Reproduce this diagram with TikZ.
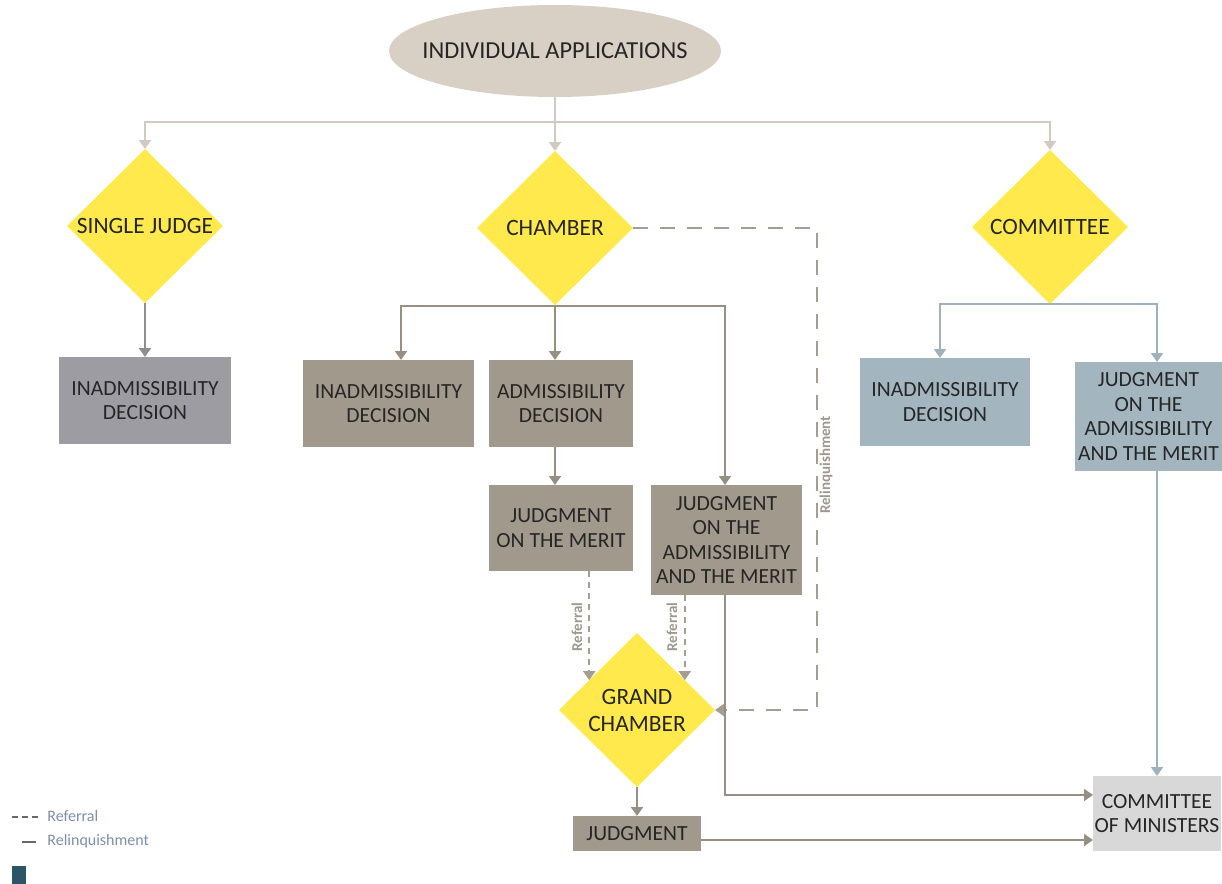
\documentclass[tikz,border=0pt]{standalone}
\usepackage{fontspec}
\setmainfont{Carlito}
\usetikzlibrary{shapes.geometric,arrows.meta,calc}
\definecolor{ellfill}{HTML}{D8CFC5}
\definecolor{topline}{HTML}{D2CAC0}
\definecolor{yel}{HTML}{FFE94D}
\definecolor{gbox}{HTML}{9D9CA3}
\definecolor{gline}{HTML}{8E8D92}
\definecolor{tbox}{HTML}{A1998C}
\definecolor{tline}{HTML}{978F82}
\definecolor{bbox}{HTML}{A3B6BF}
\definecolor{bline}{HTML}{9DB2BB}
\definecolor{cbox}{HTML}{D8D8D8}
\definecolor{dline}{HTML}{A39D94}
\definecolor{txt}{HTML}{262626}
\definecolor{legtxt}{HTML}{7D8FA6}
\definecolor{legsq}{HTML}{2E5566}
\definecolor{rotlbl}{HTML}{9E978D}
\tikzset{
  boxnode/.style={rectangle, inner sep=0pt, outer sep=0pt, align=center,
    font=\fontsize{10.8}{12.3}\selectfont, text=txt},
  dianode/.style={diamond, fill=yel, inner sep=0pt, outer sep=0pt,
    minimum width=78pt, minimum height=77pt},
  diatext/.style={align=center, font=\fontsize{11.7}{13.5}\selectfont, text=txt, inner sep=0pt},
  conn/.style={line width=1pt, -{Triangle[width=6pt,length=4.5pt]}},
  plainline/.style={line width=1pt},
  refline/.style={line width=1pt, color=dline, dash pattern=on 3pt off 2.5pt,
    -{Triangle[width=6pt,length=4.5pt]}},
  relline/.style={line width=1pt, color=dline, dash pattern=on 7.5pt off 6pt,
    -{Triangle[width=6pt,length=4.5pt]}},
  rotlabel/.style={rotate=90, font=\bfseries\fontsize{7.5}{8}\selectfont, text=rotlbl, inner sep=0pt},
  legtext/.style={anchor=west, font=\fontsize{8}{9}\selectfont, text=legtxt, inner sep=0pt}
}
\begin{document}
\begin{tikzpicture}[x=0.5pt,y=-0.5pt]
\useasboundingbox (0,0) rectangle (1222,884);

% top ellipse
\node[ellipse, fill=ellfill, minimum width=166pt, minimum height=46pt, inner sep=0pt, outer sep=0pt] (ia) at (555,51) {};
\node[font=\fontsize{12.2}{14}\selectfont, text=txt, inner sep=0pt] at (ia) {INDIVIDUAL APPLICATIONS};

% diamonds
\node[dianode] (sj) at (145,226) {};
\node[diatext] at (sj) {SINGLE JUDGE};
\node[dianode] (ch) at (555,228) {};
\node[diatext] at (ch) {CHAMBER};
\node[dianode] (cm) at (1050,227) {};
\node[diatext] at (cm) {COMMITTEE};
\node[dianode] (gc) at (637,710) {};
\node[diatext] at (gc) {GRAND\\CHAMBER};

% boxes
\node[boxnode, fill=gbox, minimum width=86pt, minimum height=43.5pt] (inad1) at (145,400.5) {INADMISSIBILITY\\DECISION};
\node[boxnode, fill=tbox, minimum width=85.5pt, minimum height=43.5pt] (inad2) at (388.5,403.5) {INADMISSIBILITY\\DECISION};
\node[boxnode, fill=tbox, minimum width=72pt, minimum height=43.5pt] (ad) at (561,403.5) {ADMISSIBILITY\\DECISION};
\node[boxnode, fill=tbox, minimum width=72pt, minimum height=43pt] (jm) at (561,528) {JUDGMENT\\ON THE MERIT};
\node[boxnode, fill=tbox, minimum width=75.5pt, minimum height=55pt] (j2) at (726.5,540) {JUDGMENT\\ON THE\\ADMISSIBILITY\\AND THE MERIT};
\node[boxnode, fill=bbox, minimum width=85pt, minimum height=44pt] (inad3) at (945,402) {INADMISSIBILITY\\DECISION};
\node[boxnode, fill=bbox, minimum width=73.5pt, minimum height=54.5pt] (jc) at (1148.5,416.5) {JUDGMENT\\ON THE\\ADMISSIBILITY\\AND THE MERIT};
\node[boxnode, fill=cbox, minimum width=64pt, minimum height=37.5pt] (com) at (1157,813.5) {COMMITTEE\\OF MINISTERS};
\node[boxnode, fill=tbox, minimum width=64pt, minimum height=17.5pt] (jd) at (637,833.5) {JUDGMENT};

% top connectors
\coordinate (split) at (555,122);
\draw[plainline, topline] (ia.south) -- (split);
\draw[conn, topline] (split) -| (sj.north);
\draw[conn, topline] (split) -- (ch.north);
\draw[conn, topline] (split) -| (cm.north);

% single judge
\draw[conn, gline] (sj.south) -- (inad1.north);

% chamber
\coordinate (chs) at (555,306);
\draw[plainline, tline] (ch.south) -- (chs);
\draw[conn, tline] (chs) -| ($(inad2.north)+(12.5,0)$);
\draw[conn, tline] (chs) -- (chs |- ad.north);
\draw[conn, tline] (chs) -| ($(j2.north)+(-1.5,0)$);
\draw[conn, tline] (chs |- ad.south) -- (chs |- jm.north);

% referrals
\draw[refline] (gc.148 |- jm.south) -- (gc.148);
\draw[refline] (gc.32 |- j2.south) -- (gc.32);
\node[rotlabel] (rl1) at (577,627) {Referral};
\node[rotlabel] (rl2) at (672,627) {Referral};

% relinquishment
\draw[relline] (ch.east) -- ++(184,0) |- (gc.east);
\node[rotlabel] (rl3) at (826,465) {Relinquishment};

% to grand chamber judgment and committee of ministers
\draw[conn, tline] (gc.south) -- (jd.north);
\draw[conn, tline] ($(j2.south)+(-1.5,0)$) |- ($(com.west)+(0,-18.5)$);
\draw[conn, tline] ($(jd.east)+(0,6.5)$) -- ($(com.west)+(0,26.5)$);

% committee
\draw[conn, bline] (cm.south) -| ($(inad3.north)+(-5,0)$);
\draw[conn, bline] (cm.south) -| ($(jc.north)+(8.5,0)$);
\draw[conn, bline] ($(jc.south)+(8.5,0)$) -- (com.north);

% legend
\draw[line width=0.8pt, color=txt!70, dash pattern=on 3pt off 2pt] (12,817) -- (38,817);
\node[legtext] (lg1) at (47,816) {Referral};
\draw[line width=0.8pt, color=txt!70] (22,842) -- (36,842);
\node[legtext] (lg2) at (47,841) {Relinquishment};
\fill[legsq] (12,866) rectangle (26,884);
\end{tikzpicture}
\end{document}
